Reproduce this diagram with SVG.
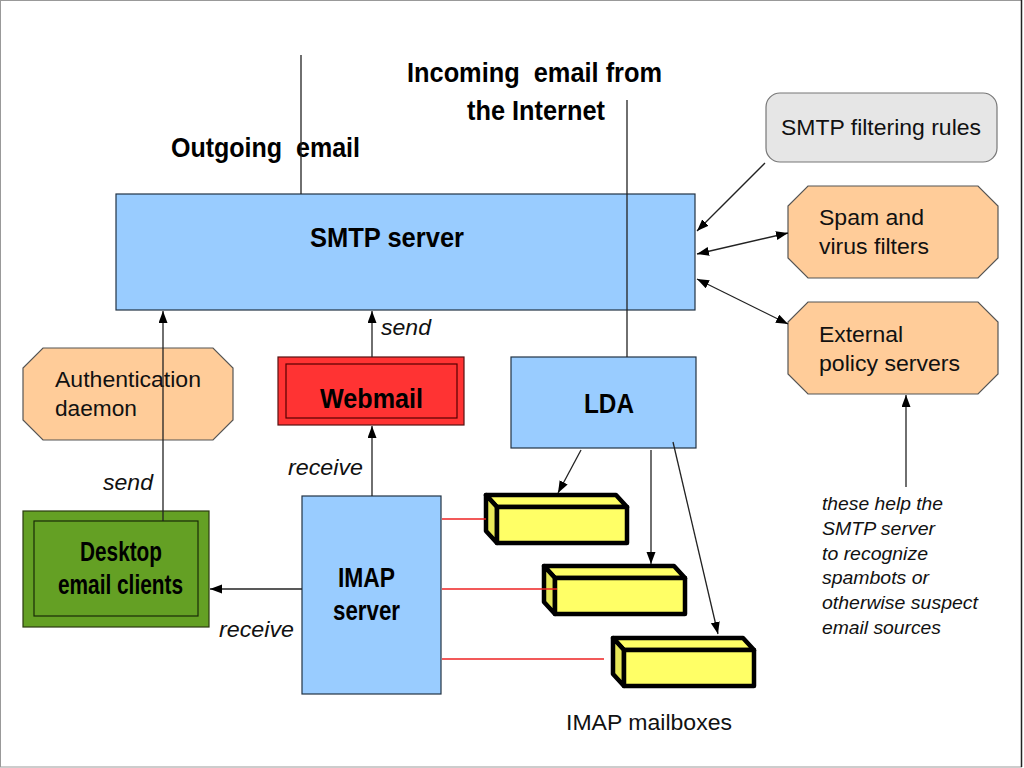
<svg xmlns="http://www.w3.org/2000/svg" width="1024" height="768" viewBox="0 0 1024 768">
<style>
.blue{fill:#99ccff;stroke:#223344;stroke-width:1.2}
.oct{fill:#ffcc99;stroke:#555;stroke-width:1.2}
.b{font-family:"Liberation Sans",Arial,sans-serif;font-weight:bold;font-size:27px;fill:#000;white-space:pre}
.r{font-family:"Liberation Sans",Arial,sans-serif;font-size:22px;fill:#111}
.i{font-family:"Liberation Sans",Arial,sans-serif;font-style:italic;font-size:22px;fill:#111}
.n{font-family:"Liberation Sans",Arial,sans-serif;font-style:italic;font-size:19px;fill:#111}
.ln{stroke:#222;stroke-width:1.3;fill:none}
.red{stroke:#ee2222;stroke-width:1.6}
.mb polygon,.mb rect{stroke:#000;stroke-width:4.5;stroke-linejoin:round}
</style>
<defs>
<marker id="ah" markerWidth="13" markerHeight="10" refX="12" refY="4.5" orient="auto-start-reverse" markerUnits="userSpaceOnUse">
<path d="M0,0 L12,4.5 L0,9 z" fill="#000"/>
</marker>
<g id="mbox" class="mb">
<polygon points="0,0 130,0 141,12 11,12" fill="#ffff66"/>
<polygon points="0,0 11,12 11,48 0,36" fill="#e8e858"/>
<rect x="11" y="12" width="130" height="36" fill="#ffff66"/>
</g>
</defs>
<rect x="0" y="0" width="1024" height="768" fill="#fff"/>
<rect x="0.5" y="0.5" width="1021" height="766.5" fill="none" stroke="#999" stroke-width="1"/>
<line x1="1021.5" y1="0" x2="1021.5" y2="767" stroke="#222" stroke-width="1.5"/>

<g id="labels-top">
<text class="b" x="171" y="157" textLength="189" lengthAdjust="spacingAndGlyphs" xml:space="preserve">Outgoing  email</text>
<text class="b" x="407" y="82" textLength="255" lengthAdjust="spacingAndGlyphs" xml:space="preserve">Incoming  email from</text>
<text class="b" x="467" y="120" textLength="138" lengthAdjust="spacingAndGlyphs">the Internet</text>
</g>

<g id="smtp-server">
<rect class="blue" x="116" y="194" width="579" height="116"/>
<text class="b" x="310" y="247" textLength="154" lengthAdjust="spacingAndGlyphs">SMTP server</text>
</g>

<g id="smtp-filtering-rules">
<rect x="766" y="93" width="231" height="69" rx="14" fill="#e6e6e6" stroke="#777" stroke-width="1.2"/>
<text class="r" x="781" y="135" textLength="200" lengthAdjust="spacingAndGlyphs">SMTP filtering rules</text>
</g>

<g id="spam-filters">
<polygon class="oct" points="808,186 978,186 998,206 998,258 978,278 808,278 788,258 788,206"/>
<text class="r" x="819" y="225" textLength="105" lengthAdjust="spacingAndGlyphs">Spam and</text>
<text class="r" x="819" y="254" textLength="110" lengthAdjust="spacingAndGlyphs">virus filters</text>
</g>

<g id="policy-servers">
<polygon class="oct" points="808,302 978,302 998,322 998,374 978,394 808,394 788,374 788,322"/>
<text class="r" x="819" y="342" textLength="84" lengthAdjust="spacingAndGlyphs">External</text>
<text class="r" x="819" y="371" textLength="141" lengthAdjust="spacingAndGlyphs">policy servers</text>
</g>

<g id="note">
<text class="n" x="822" y="510" textLength="121" lengthAdjust="spacingAndGlyphs">these help the</text>
<text class="n" x="822" y="535" textLength="113" lengthAdjust="spacingAndGlyphs">SMTP server</text>
<text class="n" x="822" y="560" textLength="106" lengthAdjust="spacingAndGlyphs">to recognize</text>
<text class="n" x="822" y="584" textLength="107" lengthAdjust="spacingAndGlyphs">spambots or</text>
<text class="n" x="822" y="609" textLength="156" lengthAdjust="spacingAndGlyphs">otherwise suspect</text>
<text class="n" x="822" y="634" textLength="119" lengthAdjust="spacingAndGlyphs">email sources</text>
</g>

<g id="auth-daemon">
<polygon class="oct" points="43,348 213,348 233,368 233,420 213,440 43,440 23,420 23,368"/>
<text class="r" x="55" y="387" textLength="146" lengthAdjust="spacingAndGlyphs">Authentication</text>
<text class="r" x="55" y="416" textLength="82" lengthAdjust="spacingAndGlyphs">daemon</text>
</g>

<g id="desktop-clients">
<rect x="23" y="511" width="186" height="116" fill="#64a024" stroke="#2a3a10" stroke-width="1.2"/>
<rect x="34" y="521" width="164" height="95" fill="none" stroke="#1a2a08" stroke-width="1.2"/>
<text class="b" x="80" y="561" font-size="24" textLength="82" lengthAdjust="spacingAndGlyphs">Desktop</text>
<text class="b" x="58" y="594" font-size="24" textLength="125" lengthAdjust="spacingAndGlyphs">email clients</text>
</g>

<g id="webmail">
<rect x="278" y="357" width="186" height="68" fill="#ff3333" stroke="#551111" stroke-width="1.2"/>
<rect x="286" y="364" width="171" height="54" fill="none" stroke="#550000" stroke-width="1.2"/>
<text class="b" x="320" y="408" textLength="103" lengthAdjust="spacingAndGlyphs">Webmail</text>
</g>

<g id="lda">
<rect class="blue" x="511" y="357" width="185" height="91"/>
<text class="b" x="584" y="413" font-size="29" textLength="50" lengthAdjust="spacingAndGlyphs">LDA</text>
</g>

<g id="imap-server">
<rect class="blue" x="302" y="496" width="139" height="198"/>
<text class="b" x="338" y="587" textLength="57" lengthAdjust="spacingAndGlyphs">IMAP</text>
<text class="b" x="333" y="620" textLength="67" lengthAdjust="spacingAndGlyphs">server</text>
</g>

<g id="mailboxes">
<use href="#mbox" transform="translate(486,495)"/>
<use href="#mbox" transform="translate(544,566)"/>
<use href="#mbox" transform="translate(613,638)"/>
<text class="r" x="566" y="730" textLength="166" lengthAdjust="spacingAndGlyphs">IMAP mailboxes</text>
</g>

<g id="connectors">
<line class="ln" x1="301" y1="55" x2="301" y2="194"/>
<line class="ln" x1="627" y1="100" x2="627" y2="357"/>
<line class="ln" x1="765" y1="163" x2="697" y2="231" marker-end="url(#ah)"/>
<line class="ln" x1="697" y1="254" x2="788" y2="233" marker-start="url(#ah)" marker-end="url(#ah)"/>
<line class="ln" x1="697" y1="279" x2="788" y2="324" marker-start="url(#ah)" marker-end="url(#ah)"/>
<line class="ln" x1="906" y1="487" x2="906" y2="395" marker-end="url(#ah)"/>
<line class="ln" x1="163" y1="521" x2="163" y2="311" marker-end="url(#ah)"/>
<line class="ln" x1="372" y1="357" x2="372" y2="311" marker-end="url(#ah)"/>
<line class="ln" x1="372" y1="496" x2="372" y2="426" marker-end="url(#ah)"/>
<line class="ln" x1="302" y1="589" x2="210" y2="589" marker-end="url(#ah)"/>
<line class="ln" x1="581" y1="450" x2="558" y2="493" marker-end="url(#ah)"/>
<line class="ln" x1="651" y1="450" x2="651" y2="564" marker-end="url(#ah)"/>
<line class="ln" x1="673" y1="442" x2="718" y2="634" marker-end="url(#ah)"/>
<line class="red" x1="442" y1="519" x2="486" y2="519"/>
<line class="red" x1="442" y1="589" x2="557" y2="589"/>
<line class="red" x1="442" y1="659" x2="604" y2="659"/>
<text class="i" x="103" y="490" textLength="50" lengthAdjust="spacingAndGlyphs">send</text>
<text class="i" x="381" y="335" textLength="50" lengthAdjust="spacingAndGlyphs">send</text>
<text class="i" x="288" y="475" textLength="75" lengthAdjust="spacingAndGlyphs">receive</text>
<text class="i" x="219" y="637" textLength="75" lengthAdjust="spacingAndGlyphs">receive</text>
</g>
</svg>
